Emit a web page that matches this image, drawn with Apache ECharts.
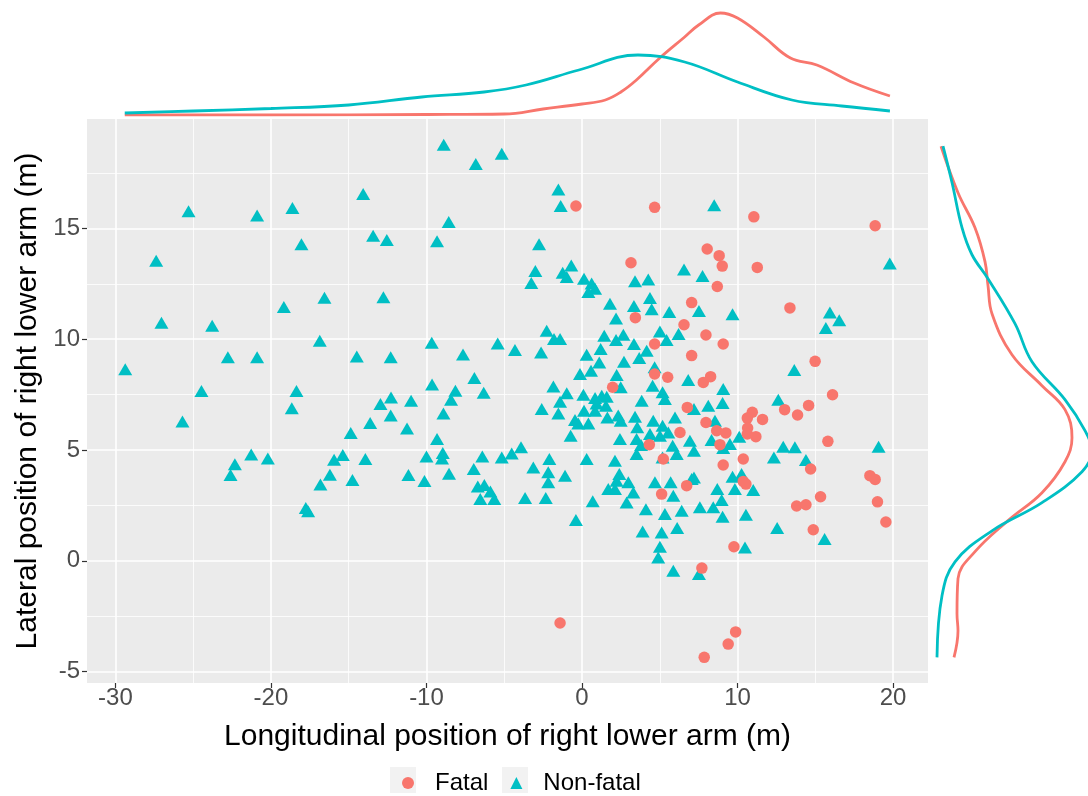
<!DOCTYPE html>
<html>
<head>
<meta charset="utf-8">
<script src="https://cdn.jsdelivr.net/npm/echarts@6/dist/echarts.min.js"></script>
<style>
html,body{margin:0;padding:0;background:#fff;}
#chart{width:1088px;height:796px;}
</style>
</head>
<body>
<div id="chart"></div>
<script>
// ---- data ----
const seriesNames = ['Fatal', 'Non-fatal'];
const xTicks = [-30, -20, -10, 0, 10, 20];
const xMinorTicks = [-25, -15, -5, 5, 15];
const yTicks = [-5, 0, 5, 10, 15];
const yMinorTicks = [-2.5, 2.5, 7.5, 12.5, 17.5];

const fatalPoints = [
 [-0.39,16.01],[4.67,15.95],[3.15,13.45],[7.05,11.65],[3.43,10.97],[6.56,10.65],[11.05,15.52],[18.85,15.12],
 [8.05,14.07],[8.82,13.77],[9.02,13.30],[11.27,13.24],[8.70,12.38],[13.37,11.41],[4.67,9.78],[7.05,9.26],
 [4.67,8.43],[5.51,8.28],[1.97,7.83],[7.80,8.05],[6.77,6.92],[6.30,5.79],[4.33,5.24],[7.97,10.19],
 [9.08,9.78],[14.99,9.00],[8.27,8.31],[16.11,7.49],[14.57,7.01],[13.03,6.82],[13.86,6.58],[10.95,6.70],
 [10.63,6.44],[11.61,6.38],[7.97,6.24],[10.65,5.99],[8.66,5.87],[9.25,5.77],[10.63,5.72],[11.18,5.60],
 [8.87,5.24],[15.81,5.39],[9.08,4.32],[10.37,4.59],[14.70,4.14],[10.37,3.58],[10.54,3.46],[18.51,3.84],
 [18.85,3.67],[15.34,2.89],[13.80,2.47],[14.40,2.53],[19.00,2.66],[19.54,1.75],[14.87,1.40],[9.77,0.63],
 [7.71,-0.33],[5.23,4.59],[5.12,3.01],[6.73,3.39],[-1.41,-2.81],[9.88,-3.21],[9.40,-3.76],[7.86,-4.36]
];

const nonFatalPoints = [
 [-8.89,18.78],[-6.83,17.91],[-5.16,18.37],[-14.07,16.55],[-25.30,15.77],[-20.89,15.58],[-18.62,15.92],[-8.57,15.29],
 [-13.43,14.67],[-12.55,14.48],[-9.32,14.42],[-18.04,14.28],[-27.38,13.54],[-19.17,11.45],[-16.56,11.87],[-12.77,11.89],
 [-27.04,10.74],[-23.78,10.61],[-16.86,9.93],[-9.66,9.84],[-7.65,9.31],[-5.42,9.80],[-29.37,8.64],[-22.77,9.18],
 [-20.89,9.18],[-14.48,9.22],[-12.30,9.18],[-6.92,8.25],[-9.64,7.95],[-8.14,7.67],[-6.32,7.58],[-24.47,7.66],
 [-18.36,7.66],
 [-25.69,6.28],[-18.66,6.88],[-12.96,7.07],[-12.28,7.37],[-10.99,7.22],[-8.42,7.27],[-8.91,6.65],[-12.30,6.55],
 [-13.62,6.22],[-11.25,5.97],[-14.87,5.77],[-9.32,5.49],[-21.27,4.80],[-20.20,4.62],[-22.32,4.35],[-22.60,3.87],
 [-15.94,4.56],[-15.38,4.77],[-13.93,4.59],[-16.21,3.88],[-16.82,3.44],[-14.76,3.64],[-10.00,4.71],[-8.95,4.86],
 [-9.00,4.62],[-11.16,3.87],[-10.13,3.60],[-8.55,3.93],[-6.41,4.71],[-5.16,4.66],[-6.96,4.14],[-6.70,3.35],
 [-6.28,3.42],[-5.89,3.12],[-6.54,2.79],[-5.64,2.79],[-17.76,2.38],[-17.61,2.23],
 [-1.52,16.75],[-1.37,16.01],[-2.76,14.28],[-3.00,13.08],[-3.26,12.54],[-1.24,13.00],[-0.69,13.33],[-0.98,12.81],
 [0.13,12.73],[0.62,12.51],[0.84,12.28],[0.41,12.13],[1.80,11.60],[2.19,10.93],[3.41,12.61],[4.26,12.69],
 [4.37,11.86],[3.34,11.50],[4.48,11.35],[5.61,11.23],[6.56,13.15],[7.75,12.85],
 [8.50,16.04],[19.79,13.41],[7.52,11.27],[9.68,11.12],[15.94,11.20],[16.54,10.85],[15.68,10.51],
 [-2.27,10.38],[-4.31,9.51],[-2.63,9.40],[-1.80,10.01],[-1.41,10.01],[1.43,10.16],[2.19,9.96],[2.66,10.20],
 [3.34,9.78],[5.01,10.35],[5.44,9.96],[6.21,10.23],[4.16,9.48],[3.68,9.15],[0.30,9.30],[1.20,9.56],
 [1.11,8.95],[2.70,8.98],[0.58,8.58],[-0.13,8.43],[2.23,8.38],[4.67,8.73],[6.83,8.16],[2.49,7.83],
 [4.54,7.90],[-1.84,7.86],[-0.98,7.56],[0.09,7.49],[-1.41,7.18],[-2.59,6.85],[-1.52,6.65],[0.84,7.35],
 [1.27,7.45],[1.59,7.40],[0.94,7.10],[1.54,7.00],[0.13,6.77],[0.84,6.77],[-0.45,6.35],[-0.24,6.20],
 [0.41,6.20],[1.63,6.47],[2.33,6.55],[2.49,6.32],[-0.73,5.64],[2.44,5.49],[3.84,7.22],[3.41,6.50],
 [3.55,6.02],[4.58,6.32],[5.18,7.60],[5.33,7.30],[5.98,6.47],[5.18,6.09],[5.55,5.79],[4.37,5.72],
 [5.01,5.64],[6.94,5.42],[3.51,5.49],[3.80,5.22],
 [13.65,8.61],[9.08,7.75],[12.62,7.27],[9.04,7.12],[8.12,7.00],[7.20,6.85],[8.55,6.32],[10.11,5.60],
 [8.33,5.45],[9.51,5.27],[9.08,5.09],[12.94,5.15],[13.69,5.12],[19.07,5.15],
 [7.20,4.97],[12.34,4.66],[14.40,4.55],[7.20,3.76],[9.68,3.79],[10.26,3.91],[8.70,3.24],[9.83,3.24],
 [11.01,3.19],[8.98,2.74],[7.58,2.41],[8.44,2.41],[9.04,1.99],[10.54,2.08],[12.55,1.48],[15.60,0.98],
 [10.48,0.60],[7.52,-0.60],
 [-4.52,4.84],[-3.92,5.12],[-3.13,4.21],[-2.10,4.59],[-2.17,3.99],[-2.17,3.54],[-1.09,3.84],[-3.66,2.83],
 [-2.33,2.83],[0.30,4.59],[0.69,2.68],[-0.39,1.84],[2.12,4.51],[2.40,3.91],[2.23,3.61],[1.69,3.24],
 [2.12,3.24],[2.98,3.54],[3.30,3.08],[2.87,2.63],[3.51,4.82],[4.69,3.54],[4.11,2.33],[5.33,2.11],
 [5.70,3.54],[5.87,2.93],[5.18,4.66],[5.83,5.19],[6.09,4.82],[6.41,2.26],[7.05,3.69],[5.12,1.28],
 [6.12,1.48],[5.01,0.63],[4.90,0.15],[3.90,1.32],[5.87,-0.45]
];

// marginal densities: [x, density] (top) and [density, y] (right)
const topDensityFatal = [
 [-29.4,0],[-20,0],[-10,0.0005],[-5,0.001],[-2.5,0.006],[0,0.011],[1.5,0.015],[2.5,0.023],[3.5,0.035],
 [5,0.057],[6.6,0.078],[7.5,0.090],[8.9,0.102],[10,0.097],[11.7,0.078],[13.4,0.057],[15.1,0.050],[17.5,0.032],[19.8,0.019]
];
const topDensityNonFatal = [
 [-29.4,0.002],[-25,0.004],[-20,0.0065],[-15,0.010],[-10.3,0.018],[-6.3,0.023],[-3.6,0.030],[-0.2,0.045],
 [3.6,0.060],[6.6,0.053],[10,0.033],[13.5,0.015],[16.7,0.009],[19.8,0.004]
];
const rightDensityFatal = [
 [0.007,18.71],[0.024,16.61],[0.041,15.03],[0.051,13.50],[0.054,12.42],[0.058,11.15],[0.078,9.30],[0.108,7.90],
 [0.131,6.82],[0.138,5.55],[0.131,4.47],[0.108,3.07],[0.074,1.81],[0.041,0.41],[0.024,-0.81],[0.023,-2.39],[0.024,-3.16],[0.020,-4.36]
];
const rightDensityNonFatal = [
 [0.009,18.71],[0.018,17.07],[0.028,15.03],[0.038,13.81],[0.054,12.73],[0.081,10.70],[0.098,8.98],[0.131,7.27],
 [0.151,5.87],[0.158,4.97],[0.148,4.02],[0.108,2.62],[0.058,1.35],[0.021,-0.05],[0.008,-1.58],[0.003,-4.36]
];

// ---- scales (ggplot 5% expansion) ----
const allPts = fatalPoints.concat(nonFatalPoints);
const xs = allPts.map(p => p[0]), ys = allPts.map(p => p[1]);
const xLo = Math.min(...xs), xHi = Math.max(...xs), yLo = Math.min(...ys), yHi = Math.max(...ys);
const xMin = xLo - 0.05 * (xHi - xLo), xMax = xHi + 0.05 * (xHi - xLo);
const yMin = yLo - 0.05 * (yHi - yLo), yMax = yHi + 0.05 * (yHi - yLo);

const RED = '#F8766D', TEAL = '#00BFC4';
const FONT = '"Liberation Sans", Arial, sans-serif';

const gridLines = []
 .concat(xTicks.map(v => ({ xAxis: v, lineStyle: { width: 1.6 } })))
 .concat(xMinorTicks.map(v => ({ xAxis: v, lineStyle: { width: 0.8 } })))
 .concat(yTicks.map(v => ({ yAxis: v, lineStyle: { width: 1.6 } })))
 .concat(yMinorTicks.map(v => ({ yAxis: v, lineStyle: { width: 0.8 } })));

const chart = echarts.init(document.getElementById('chart'), null, { renderer: 'canvas' });
chart.setOption({
  animation: false,
  backgroundColor: '#ffffff',
  textStyle: { fontFamily: FONT },
  grid: [
    { left: 87, right: 160, top: 119, bottom: 113, show: true, backgroundColor: '#EBEBEB', borderWidth: 0, containLabel: false },
    { left: 87, right: 160, top: 5, height: 110, show: false, containLabel: false },
    { left: 934, right: 0, top: 119, bottom: 113, show: false, containLabel: false }
  ],
  xAxis: [
    { type: 'value', gridIndex: 0, min: xMin, max: xMax, position: 'bottom',
      name: 'Longitudinal position of right lower arm (m)', nameLocation: 'middle', nameGap: 39,
      nameTextStyle: { fontSize: 30, color: '#000', fontFamily: FONT },
      axisLine: { show: false, onZero: false }, splitLine: { show: false },
      axisTick: { show: true, length: 5, inside: false, customValues: xTicks, lineStyle: { color: '#333333', width: 1.2 } },
      axisLabel: { show: true, customValues: xTicks, fontSize: 24, color: '#4D4D4D', margin: 3, fontFamily: FONT } },
    { type: 'value', gridIndex: 1, min: xMin, max: xMax, show: false },
    { type: 'value', gridIndex: 2, min: 0, max: 0.154, show: false }
  ],
  yAxis: [
    { type: 'value', gridIndex: 0, min: yMin, max: yMax, position: 'left',
      name: 'Lateral position of right lower arm (m)', nameLocation: 'middle', nameGap: 28, nameRotate: 90,
      nameTextStyle: { fontSize: 30, color: '#000', fontFamily: FONT },
      axisLine: { show: false, onZero: false }, splitLine: { show: false },
      axisTick: { show: true, length: 5, inside: false, customValues: yTicks, lineStyle: { color: '#333333', width: 1.2 } },
      axisLabel: { show: true, customValues: yTicks, fontSize: 24, color: '#4D4D4D', margin: 7, fontFamily: FONT } },
    { type: 'value', gridIndex: 1, min: 0, max: 0.110, show: false },
    { type: 'value', gridIndex: 2, min: yMin, max: yMax, show: false }
  ],
  legend: {
    left: 397, top: 766, orient: 'horizontal',
    itemWidth: 12, itemHeight: 12, itemGap: 22,
    textStyle: { fontSize: 24, color: '#000', fontFamily: FONT, padding: [0, 0, 0, 16] },
    data: [{ name: seriesNames[0], icon: 'circle' }, { name: seriesNames[1], icon: 'triangle' }]
  },
  graphic: [
    { type: 'rect', left: 390, top: 767, shape: { width: 26, height: 26 }, style: { fill: '#F2F2F2' }, z: -10, silent: true },
    { type: 'rect', left: 502, top: 767, shape: { width: 26, height: 26 }, style: { fill: '#F2F2F2' }, z: -10, silent: true }
  ],
  series: [
    { name: '_grid', type: 'scatter', xAxisIndex: 0, yAxisIndex: 0, data: [], silent: true, z: 1,
      markLine: { silent: true, symbol: 'none', z: 1, animation: false,
        label: { show: false },
        lineStyle: { color: '#FFFFFF', type: 'solid', width: 1.6 },
        emphasis: { disabled: true },
        data: gridLines } },
    { name: seriesNames[1], type: 'scatter', xAxisIndex: 0, yAxisIndex: 0, data: nonFatalPoints,
      symbol: 'triangle', symbolSize: [14, 12], itemStyle: { color: TEAL, opacity: 1 }, z: 3 },
    { name: seriesNames[0], type: 'scatter', xAxisIndex: 0, yAxisIndex: 0, data: fatalPoints,
      symbol: 'circle', symbolSize: 11.5, itemStyle: { color: RED, opacity: 1 }, z: 4 },
    { name: 'topFatal', type: 'line', xAxisIndex: 1, yAxisIndex: 1, data: topDensityFatal, smooth: 0.4,
      showSymbol: false, lineStyle: { color: RED, width: 2.8 }, itemStyle: { color: RED }, silent: true, z: 3 },
    { name: 'topNonFatal', type: 'line', xAxisIndex: 1, yAxisIndex: 1, data: topDensityNonFatal, smooth: 0.4,
      showSymbol: false, lineStyle: { color: TEAL, width: 2.8 }, itemStyle: { color: TEAL }, silent: true, z: 4 },
    { name: 'rightFatal', type: 'line', xAxisIndex: 2, yAxisIndex: 2, data: rightDensityFatal, smooth: 0.4,
      showSymbol: false, lineStyle: { color: RED, width: 2.8 }, itemStyle: { color: RED }, silent: true, z: 3 },
    { name: 'rightNonFatal', type: 'line', xAxisIndex: 2, yAxisIndex: 2, data: rightDensityNonFatal, smooth: 0.4,
      showSymbol: false, lineStyle: { color: TEAL, width: 2.8 }, itemStyle: { color: TEAL }, silent: true, z: 4 }
  ]
});
</script>
</body>
</html>
